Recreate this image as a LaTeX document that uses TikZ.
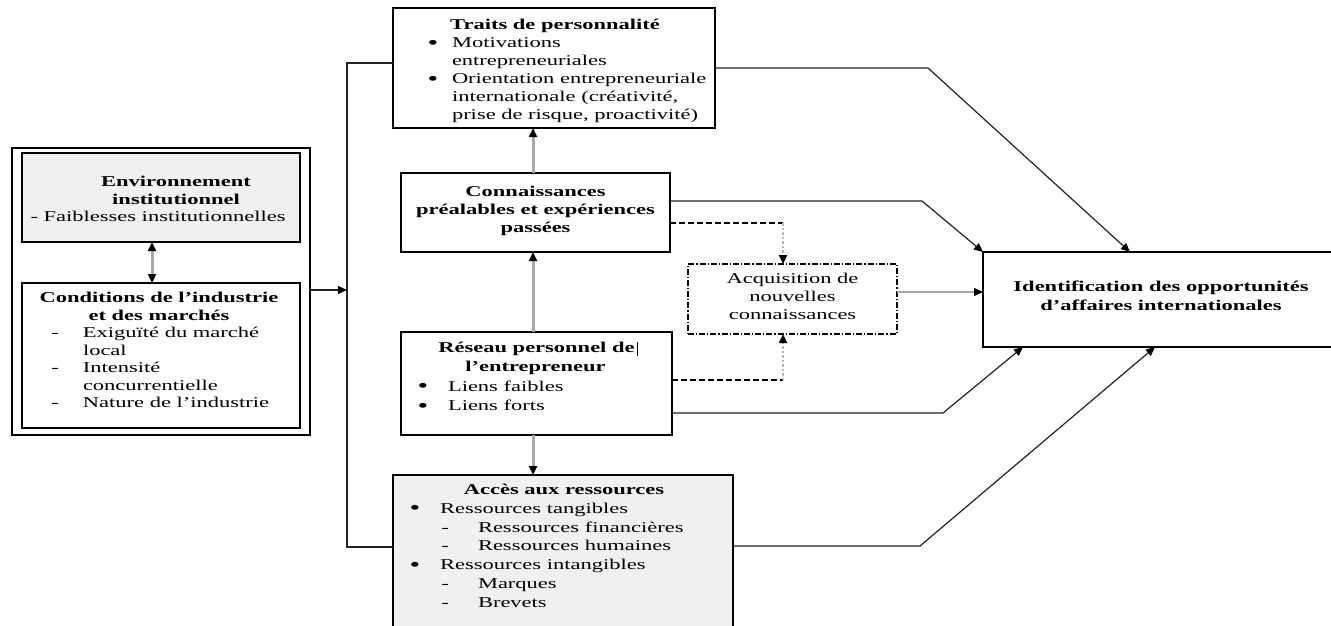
\documentclass[tikz,border=0pt]{standalone}
\usepackage{fontspec}
\setmainfont{Liberation Serif}[FakeStretch=1.5]
\usetikzlibrary{arrows.meta}

\definecolor{boxgrey}{HTML}{F0F0F0}
\definecolor{linegrey}{HTML}{222222}
\definecolor{shaftgrey}{HTML}{A8A8A8}

% line helpers: centred at an offset, left-aligned at an offset, marker + text
\newcommand\tcen[2]{\strut\hspace*{#1pt}\makebox[0pt]{#2}}
\newcommand\tlft[2]{\strut\hspace*{#1pt}#2}
\newcommand\tmark[4]{\strut\hspace*{#1pt}\makebox[0pt]{#2}\hspace*{\dimexpr#3pt-#1pt\relax}#4}
\newcommand\bigdot{\raisebox{-1.6pt}[0pt][0pt]{\scalebox{1.35}{•}}}

\tikzset{
  box/.style={draw=black, line width=1.4pt, inner sep=0pt, outer sep=0pt},
  greybox/.style={box, fill=boxgrey},
  acqbox/.style={draw=black, line width=1.2pt, inner sep=0pt, outer sep=0pt,
    dash pattern=on 6pt off 2pt on 1.2pt off 2pt},
  txt/.style={inner sep=0pt, outer sep=0pt, anchor=north west, align=left},
  conn/.style={draw=linegrey, line width=1.2pt},
  lightconn/.style={draw=gray!70, line width=1.3pt},
  tipend/.style={-{Triangle[length=9pt,width=8pt,color=black]}},
  shaft/.style={draw=shaftgrey, line width=3pt},
  dashconn/.style={draw=black, line width=1.1pt, dash pattern=on 6pt off 3pt},
  dotconn/.style={draw=gray!55, line width=2.8pt, dash pattern=on 2.5pt off 2pt}
}

\begin{document}
\begin{tikzpicture}[x=1pt,y=-1pt]
\useasboundingbox (0,0) rectangle (1331,625);
\path[clip] (0,0) rectangle (1331,625);
\fill[white] (0,0) rectangle (1331,625);

% ---------- boxes ----------
\node[box, minimum width=298pt, minimum height=287pt] (outer) at (161,291.5) {};
\node[greybox, minimum width=278pt, minimum height=89pt] (env) at (161,197.5) {};
\node[box, fill=white, minimum width=278pt, minimum height=145pt] (cond) at (161,355.5) {};
\node[box, minimum width=322pt, minimum height=120pt] (traits) at (554,68) {};
\node[box, minimum width=269pt, minimum height=79pt] (conn) at (535.5,212.5) {};
\node[box, minimum width=271pt, minimum height=103pt] (reseau) at (536.5,383.5) {};
\node[greybox, minimum width=340pt, minimum height=185pt] (acces) at (563,567.5) {};
\node[acqbox, minimum width=209pt, minimum height=70pt] (acq) at (792.5,299) {};
\node[box, minimum width=362pt, minimum height=95pt] (ident) at (1164,299.5) {};

% ---------- texts ----------
\node[txt, font=\fontsize{15}{17.5}\selectfont] (envT) at (22,174.3) {%
  \tcen{154}{\textbf{Environnement}}\\
  \tcen{154}{\textbf{institutionnel}}\\
  \tcen{136}{- Faiblesses institutionnelles}};

\node[txt, font=\fontsize{15}{17.5}\selectfont] (condT) at (22,290.5) {%
  \tcen{137}{\textbf{Conditions de l’industrie}}\\
  \tcen{137}{\textbf{et des marchés}}\\
  \tmark{33}{-}{61}{Exiguïté du marché}\\
  \tlft{61}{local}\\
  \tmark{33}{-}{61}{Intensité}\\
  \tlft{61}{concurrentielle}\\
  \tmark{33}{-}{61}{Nature de l’industrie}};

\node[txt, font=\fontsize{15}{18}\selectfont] (traitsT) at (393,16.9) {%
  \tcen{162}{\textbf{Traits de personnalité}}\\
  \tmark{40}{\bigdot}{59}{Motivations}\\
  \tlft{59}{entrepreneuriales}\\
  \tmark{40}{\bigdot}{59}{Orientation entrepreneuriale}\\
  \tlft{59}{internationale (créativité,}\\
  \tlft{59}{prise de risque, proactivité)}};

\node[txt, font=\fontsize{15}{18}\selectfont\bfseries] (connT) at (401,183.9) {%
  \tcen{134.5}{Connaissances}\\
  \tcen{134.5}{préalables et expériences}\\
  \tcen{134.5}{passées}};

\node[txt, font=\fontsize{15}{19.3}\selectfont] (reseauT) at (401,339) {%
  \tcen{137}{\textbf{Réseau personnel de}\hspace{2pt}\rule[-3pt]{1pt}{14pt}}\\
  \tcen{134.5}{\textbf{l’entrepreneur}}\\
  \tmark{22}{\bigdot}{47}{Liens faibles}\\
  \tmark{22}{\bigdot}{47}{Liens forts}};

\node[txt, font=\fontsize{15}{18.8}\selectfont] (accesT) at (393,481.3) {%
  \tcen{171}{\textbf{Accès aux ressources}}\\
  \tmark{22}{\bigdot}{47}{Ressources tangibles}\\
  \tmark{52}{-}{85}{Ressources financières}\\
  \tmark{52}{-}{85}{Ressources humaines}\\
  \tmark{22}{\bigdot}{47}{Ressources intangibles}\\
  \tmark{52}{-}{85}{Marques}\\
  \tmark{52}{-}{85}{Brevets}};

\node[txt, font=\fontsize{15}{18}\selectfont] (acqT) at (688,270.9) {%
  \tcen{104.5}{Acquisition de}\\
  \tcen{104.5}{nouvelles}\\
  \tcen{104.5}{connaissances}};

\node[txt, font=\fontsize{15}{19}\selectfont\bfseries] (identT) at (983,278.2) {%
  \tcen{178}{Identification des opportunités}\\
  \tcen{178}{d’affaires internationales}};

% ---------- junction points ----------
\coordinate (jt) at (347,63);
\coordinate (jm) at (347,290);
\coordinate (jb) at (347,547);
\coordinate (ax) at (533,0);
\coordinate (dx) at (783,0);
\coordinate (ex) at (152,0);

% ---------- connectors ----------
% left block feeding the three entrepreneur boxes
\draw[conn] (traits.west |- jt) -- (jt) -- (jb) -- (acces.west |- jb);
\draw[conn, tipend] (outer.east |- jm) -- (jm);

% environment <-> industry conditions
\draw[shaft, {Triangle[length=9pt,width=8pt,color=black]}-{Triangle[length=9pt,width=8pt,color=black]}]
  (env.south -| ex) -- (cond.north -| ex);

% vertical links in the central column
\draw[shaft, tipend] (reseau.north -| ax) -- (conn.south -| ax);
\draw[shaft, tipend] (conn.north -| ax) -- (traits.south -| ax);
\draw[shaft, tipend] (reseau.south -| ax) -- (acces.north -| ax);

% towards the identification box
\draw[conn, tipend] (traits.east) -- (928,68) -- (ident.north -| 1130,0);
\draw[conn, tipend] (conn.east |- 0,201) -- (922,201) -- (ident.north west);
\draw[lightconn, tipend] (acq.east |- 0,292) -- (ident.west |- 0,292);
\draw[conn, tipend] (reseau.east |- 0,413) -- (943,413) -- (ident.south -| 1023,0);
\draw[conn, tipend] (acces.east |- 0,546) -- (920,546) -- (ident.south -| 1155,0);

% knowledge acquisition links
\draw[dashconn] (conn.east |- 0,223) -- (783,223);
\draw[dotconn, tipend] (783,223) -- (acq.north -| dx);
\draw[dashconn] (reseau.east |- 0,380) -- (783,380);
\draw[dotconn, tipend] (783,380) -- (acq.south -| dx);
\end{tikzpicture}
\end{document}
